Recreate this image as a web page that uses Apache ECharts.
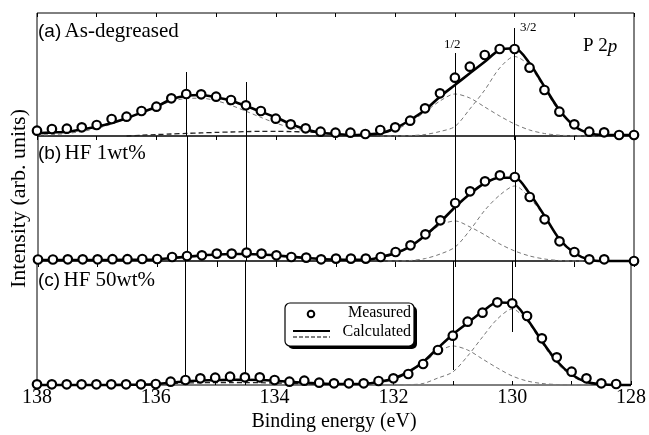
<!DOCTYPE html>
<html>
<head>
<meta charset="utf-8">
<script src="https://cdn.jsdelivr.net/npm/echarts@6/dist/echarts.min.js"></script>
<style>
  html, body { margin: 0; padding: 0; background: #fff; }
  #chart { width: 649px; height: 435px; }
</style>
</head>
<body>
<div id="chart"></div>
<script>
// binding energy grid of the measured points (eV)
const energy = [138, 137.75, 137.5, 137.25, 137, 136.75, 136.5, 136.25, 136, 135.75, 135.5, 135.25, 135, 134.75, 134.5, 134.25, 134, 133.75, 133.5, 133.25, 133, 132.75, 132.5, 132.25, 132, 131.75, 131.5, 131.25, 131, 130.75, 130.5, 130.25, 130, 129.75, 129.5, 129.25, 129, 128.75, 128.5, 128.25, 128];

// (a) As-degreased
const measuredA = [5.3, 7, 7.3, 8.7, 11, 17, 19.3, 25, 29.3, 37.7, 42, 41.7, 39.3, 36, 30.7, 25, 17.3, 11.7, 7.7, 4.3, 3.3, 3.3, 2, 6, 8.7, 15.3, 27.7, 42.7, 58.3, 69.3, 81, 87, 87, 68.3, 46, 24.3, 11.7, 4.3, 3.7, 1, 1];
const calcA = [2.7, 3.5, 4.3, 6.5, 9.3, 13, 17.7, 23.5, 29.3, 36.7, 40.3, 41, 38.7, 35.3, 30, 24.3, 18.7, 12, 6.7, 3.3, 2, 1, 1.5, 2.7, 7.7, 16, 26, 39.3, 51, 62.7, 74.3, 86, 87.7, 72.7, 49.3, 26, 10, 2.7, 1, 1, 1];

// component curves
const broadEnergy = [138, 137.75, 137.5, 137.25, 137, 136.75, 136.5, 136.25, 136, 135.75, 135.5, 135.25, 135, 134.75, 134.5, 134.25, 134, 133.75, 133.5, 133.25, 133, 132.75];
const broadA = [0.6, 1.3, 2.5, 4.5, 7.6, 11.9, 17.4, 23.5, 29.6, 34.6, 37.5, 37.8, 35.3, 30.7, 24.8, 18.6, 12.9, 8.4, 5.0, 2.8, 1.4, 0.6];
const lowEnergyA = [136.5, 136.25, 136, 135.75, 135.5, 135.25, 135, 134.75, 134.5, 134.25, 134, 133.75, 133.5, 133.25, 133];
const lowA = [0, 0.8, 1.4, 2, 2.6, 3.1, 3.6, 4, 4.4, 4.6, 4.6, 4.4, 4, 3.3, 2.5];
const peakEnergy = [132.25, 132, 131.75, 131.5, 131.25, 131, 130.75, 130.5, 130.25, 130, 129.75, 129.5, 129.25, 129, 128.75, 128.5];
const halfA = [2, 6, 14, 24, 35, 42, 38, 29, 20, 12, 6, 2.5, 0.8, 0.2, 0, 0];
const threeHalfA = [0, 0.1, 0.4, 1.5, 4.5, 9.5, 27, 46, 68, 79.5, 70, 47, 24.5, 9.5, 2.5, 0.5];

// (b) HF 1wt%
const measuredB = [1.5, 1.5, 1.7, 1.7, 1.7, 1.8, 1.8, 2, 2, 4, 5, 5.7, 7.4, 7.4, 8.4, 7.4, 5.7, 4, 3.4, 1.7, 2.4, 2.4, 2.4, 4, 9, 15.7, 26.7, 40.7, 58, 69.7, 79.7, 85.7, 84, 64, 41.7, 19.7, 9, 1.7, 1.7, null, 0];
const calcB = [1, 1, 1, 1, 1, 1, 1.2, 1.3, 1.5, 3, 4.3, 5.5, 6.5, 7, 7, 6.5, 5.5, 4.3, 3, 2, 1.5, 1.3, 1.3, 4, 8, 14.7, 25.7, 39, 54, 67.3, 78, 83.3, 83.3, 67.3, 45, 21.7, 8, 1.3, 0, 0, 0];
const halfB = [3, 7, 14, 25, 36, 40, 34, 26, 17, 10, 5, 2, 0.5, 0, 0, 0];
const threeHalfB = [0, 0, 0.5, 2.5, 7, 14, 31, 51, 66, 75, 63, 44, 21, 7.5, 1.5, 0];

// (c) HF 50wt%
const measuredC = [0.7, 0.7, 0.7, 0.7, 0.7, 0.7, 0.7, 0.7, 1, 3.3, 5, 6.7, 7.3, 8.3, 7.7, 7.7, 5, 3.3, 4.3, 2.3, 1.7, 1.7, 1.7, 4, 6.7, 11, 21, 35, 49.3, 63.3, 72.3, 82.7, 81.7, 69, 46.7, 27.7, 13.3, 6.7, 1.7, 1, null];
const calcC = [0, 0, 0, 0, 0, 0, 0.2, 0.4, 0.8, 2.3, 3.5, 4.5, 5, 5.3, 5.3, 5, 4.3, 3.3, 2.3, 1.5, 1, 1, 1.2, 3, 6.5, 13, 23, 37, 50.5, 62, 73.5, 82.5, 82, 66, 44, 24, 10.5, 3, 0.7, 0, 0];
const lowEnergyC = [136.25, 136, 135.75, 135.5, 135.25, 135, 134.75, 134.5, 134.25, 134, 133.75, 133.5, 133.25];
const lowC = [0, 1, 1.5, 2, 2.3, 2.5, 2.5, 2.5, 2.3, 2, 1.6, 1.2, 0.8];
const halfC = [2, 5, 12, 22, 33, 39, 35, 26, 17, 9, 4, 1.5, 0.5, 0, 0, 0];
const threeHalfC = [0, 0, 0.3, 1.5, 7, 13, 29, 48, 66, 76, 64, 42, 22, 9, 2.5, 0.5];

// reference lines (eV) and their extents
const markerEnergy = [135.5, 134.5, 131, 130];
const markerTopA = [64, 54, 83, 108];
const markerBottomC = [0, 0, 15, 53];

const xTicks = { min: 128, max: 138, interval: 1 };
const panelHeights = [123, 125, 124];
const serif = 'Liberation Serif';

function pairs(xs, ys) {
  return xs.map((x, i) => [x, ys[i]]).filter(p => p[1] != null);
}

function measured(g, ys) {
  return {
    type: 'scatter', xAxisIndex: g, yAxisIndex: g,
    data: pairs(energy, ys),
    symbol: 'circle', symbolSize: 8.5,
    itemStyle: { color: '#fff', borderColor: '#000', borderWidth: 2.2, opacity: 1 },
    clip: false, z: 5
  };
}

function calculated(g, ys, marks) {
  return {
    type: 'line', xAxisIndex: g, yAxisIndex: g,
    data: pairs(energy, ys),
    smooth: 0.3, showSymbol: false, clip: false,
    lineStyle: { color: '#000', width: 2.6 },
    z: 4,
    markLine: {
      silent: true, symbol: ['none', 'none'],
      label: { show: false },
      lineStyle: { color: '#000', width: 1, type: 'solid' },
      data: marks
    }
  };
}

function component(g, xs, ys, color, width, dash) {
  return {
    type: 'line', xAxisIndex: g, yAxisIndex: g,
    data: pairs(xs, ys),
    smooth: 0.3, showSymbol: false, clip: false,
    lineStyle: { color: color, width: width, type: dash },
    z: 3
  };
}

function xAxisFor(g, pos, inside, len, labels) {
  return Object.assign({
    type: 'value', gridIndex: g, position: pos, inverse: true,
    axisLine: { show: false },
    axisTick: { show: true, inside: inside, length: len, lineStyle: { color: '#000', width: 1 } },
    axisLabel: labels ? {
      show: true, color: '#000', fontFamily: serif, fontSize: 20, margin: 3,
      formatter: v => (v % 2 === 0 ? String(v) : '')
    } : { show: false },
    splitLine: { show: false }
  }, xTicks);
}

const marksA = markerEnergy.map((e, i) => [{ coord: [e, markerTopA[i]] }, { coord: [e, 0] }]);
const marksB = markerEnergy.map(e => ({ xAxis: e }));
const marksC = markerEnergy.map((e, i) => [{ coord: [e, panelHeights[2]] }, { coord: [e, markerBottomC[i]] }]);

const panelTop = [13, 136, 261];
const grids = panelTop.map((t, i) => ({
  left: 37, right: 15, top: t, height: panelHeights[i],
  show: true, borderColor: '#000', borderWidth: 1, backgroundColor: 'transparent'
}));

const xAxes = [
  xAxisFor(0, 'bottom', false, 4, false),
  xAxisFor(1, 'bottom', false, 6, false),
  Object.assign(xAxisFor(2, 'bottom', true, 4, true), {
    name: 'Binding energy (eV)', nameLocation: 'middle', nameGap: 27,
    nameTextStyle: { color: '#000', fontFamily: serif, fontSize: 20 }
  }),
  xAxisFor(0, 'top', true, 4, false)
];

const yAxes = panelHeights.map((h, i) => ({
  type: 'value', gridIndex: i, min: 0, max: h,
  axisLine: { show: false }, axisTick: { show: false },
  axisLabel: { show: false }, splitLine: { show: false },
  name: i === 1 ? 'Intensity (arb. units)' : '',
  nameLocation: 'middle', nameGap: 8,
  nameTextStyle: { color: '#000', fontFamily: serif, fontSize: 22 }
}));

const dashGray = [4, 3];
const series = [
  component(0, broadEnergy, broadA, '#777', 1, dashGray),
  component(0, lowEnergyA, lowA, '#222', 1.3, [5, 3]),
  component(0, peakEnergy, halfA, '#777', 1, dashGray),
  component(0, peakEnergy, threeHalfA, '#777', 1, dashGray),
  calculated(0, calcA, marksA),
  measured(0, measuredA),

  component(1, peakEnergy, halfB, '#777', 1, dashGray),
  component(1, peakEnergy, threeHalfB, '#777', 1, dashGray),
  calculated(1, calcB, marksB),
  measured(1, measuredB),

  component(2, lowEnergyC, lowC, '#222', 1.3, [5, 3]),
  component(2, peakEnergy, halfC, '#777', 1, dashGray),
  component(2, peakEnergy, threeHalfC, '#777', 1, dashGray),
  calculated(2, calcC, marksC),
  measured(2, measuredC)
];

function label(x, y, tag, rest) {
  return {
    type: 'text', left: x, top: y, z: 10,
    style: {
      text: '{s|' + tag + '} {r|' + rest + '}',
      rich: {
        s: { fontFamily: 'Liberation Sans', fontSize: 19, fill: '#000' },
        r: { fontFamily: serif, fontSize: 21, fill: '#000' }
      }
    }
  };
}

const graphics = [
  label(38, 21, '(a)', 'As-degreased'),
  label(38, 143, '(b)', 'HF 1wt%'),
  label(38, 270, '(c)', 'HF 50wt%'),
  { type: 'text', left: 444, top: 38, z: 10, style: { text: '1/2', font: '13px "Liberation Serif"', fill: '#000' } },
  { type: 'text', left: 520, top: 21, z: 10, style: { text: '3/2', font: '13px "Liberation Serif"', fill: '#000' } },
  {
    type: 'text', left: 583, top: 37, z: 10,
    style: {
      text: 'P 2{i|p}',
      font: '19px "Liberation Serif"', fill: '#000',
      rich: { i: { fontFamily: serif, fontSize: 19, fontStyle: 'italic', fill: '#000' } }
    }
  },
  // legend box
  { type: 'rect', z: 20, shape: { x: 288, y: 306, width: 129, height: 43, r: 5 }, style: { fill: '#000' } },
  { type: 'rect', z: 21, shape: { x: 285, y: 303, width: 129, height: 43, r: 5 }, style: { fill: '#fff', stroke: '#000', lineWidth: 1.2 } },
  { type: 'circle', z: 22, shape: { cx: 311, cy: 314, r: 3.3 }, style: { fill: '#fff', stroke: '#000', lineWidth: 2 } },
  { type: 'line', z: 22, shape: { x1: 293, y1: 331, x2: 330, y2: 331 }, style: { stroke: '#000', lineWidth: 2 } },
  { type: 'line', z: 22, shape: { x1: 293, y1: 337, x2: 330, y2: 337 }, style: { stroke: '#000', lineWidth: 1.2, lineDash: [4, 2] } },
  { type: 'text', z: 22, right: 238, top: 305, style: { text: 'Measured', font: '16px "Liberation Serif"', fill: '#000', align: 'right' } },
  { type: 'text', z: 22, right: 238, top: 324, style: { text: 'Calculated', font: '16px "Liberation Serif"', fill: '#000', align: 'right' } }
];

const chart = echarts.init(document.getElementById('chart'), null, { renderer: 'canvas' });
chart.setOption({
  animation: false,
  backgroundColor: '#fff',
  grid: grids,
  xAxis: xAxes,
  yAxis: yAxes,
  series: series,
  graphic: graphics
});
</script>
</body>
</html>
